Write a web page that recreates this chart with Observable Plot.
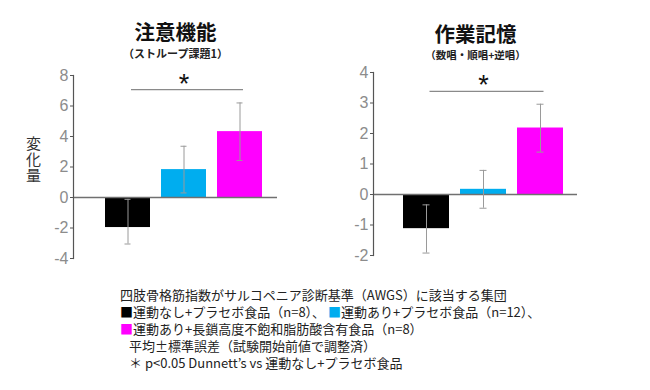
<!DOCTYPE html>
<html>
<head>
<meta charset="utf-8">
<script src="https://cdn.jsdelivr.net/npm/d3@7"></script>
<script src="https://cdn.jsdelivr.net/npm/@observablehq/plot@0.6"></script>
<style>
  html, body { margin: 0; padding: 0; background: #fff; }
  #wrap { position: relative; width: 650px; height: 390px; overflow: hidden; }
  #left { position: absolute; left: 0; top: 0; }
  #right { position: absolute; left: 320px; top: 0; }
  #ylabel { position: absolute; left: 25px; top: 136px; writing-mode: vertical-rl; text-orientation: upright; font-family: "Noto Sans CJK JP", sans-serif; font-size: 15px; line-height: 16px; letter-spacing: 1px; color: #333; }
  #caption { position: absolute; left: 120px; top: 286px; font-family: "Noto Sans CJK JP", sans-serif; font-size: 13px; line-height: 17px; color: #222; white-space: nowrap; }
  #caption > div { height: 17px; overflow: visible; }
  #caption .ind { padding-left: 9px; }
  #caption .sq { display: inline-block; height: 17px; line-height: 17px; vertical-align: top; }
</style>
</head>
<body>
<div id="wrap">
  <div id="left"></div>
  <div id="right"></div>
  <div id="ylabel"></div>
  <div id="caption"></div>
</div>
<script>
const groups = ["運動なし+プラセボ食品", "運動あり+プラセボ食品", "運動あり+長鎖高度不飽和脂肪酸含有食品"];
const colors = ["#000000", "#00adef", "#ff00ff"];

const attentionMean = [-1.97, 1.83, 4.32];
const attentionLow  = [-3.05, 0.30, 2.43];
const attentionHigh = [-0.12, 3.36, 6.20];
const attentionTicks = [-4, -2, 0, 2, 4, 6, 8];

const memoryMean = [-1.12, 0.17, 2.18];
const memoryLow  = [-1.92, -0.45, 1.39];
const memoryHigh = [-0.34, 0.79, 2.96];
const memoryTicks = [-2, -1, 0, 1, 2, 3, 4];

const sigAttention = 7.08;
const sigMemory = 3.38;

const yLabel = "変化量";
const captionLines = [
  "四肢骨格筋指数がサルコペニア診断基準（AWGS）に該当する集団",
  "運動なし+プラセボ食品（n=8）、",
  "運動あり+プラセボ食品（n=12）、",
  "運動あり+長鎖高度不飽和脂肪酸含有食品（n=8）",
  "平均±標準誤差（試験開始前値で調整済）",
  "＊ p<0.05 Dunnett’s vs 運動なし+プラセボ食品"
];

function panel({title, subtitle, mean, low, high, ticks, sig, width, height, margins, xRange, titleDy, subDy, subSize}) {
  const rows = groups.map((g, i) => ({group: g, mean: mean[i], low: low[i], high: high[i]}));
  const marks = [
    Plot.barY(rows, {x: "group", y: "mean", fill: "group"}),
    Plot.ruleY([0], {stroke: "#707070", strokeWidth: 1.6}),
    Plot.ruleX(rows, {x: "group", y1: "low", y2: "high", stroke: "#9a9a9a", strokeWidth: 1}),
    Plot.tickY(rows, {x: "group", y: "low", stroke: "#9a9a9a", strokeWidth: 1, insetLeft: 19.5, insetRight: 19.5}),
    Plot.tickY(rows, {x: "group", y: "high", stroke: "#9a9a9a", strokeWidth: 1, insetLeft: 19.5, insetRight: 19.5}),
    Plot.link([{}], {x1: () => groups[0], x2: () => groups[2], y1: () => sig, y2: () => sig, stroke: "#8a8a8a", strokeWidth: 1.2, dx: 3}),
    Plot.text([{}], {x: () => groups[1], y: () => sig, text: () => "*", fontSize: 27, fill: "#111", fontFamily: "Liberation Sans, sans-serif", dy: 3, lineAnchor: "bottom"}),
    Plot.frame({anchor: "left", stroke: "#555", strokeWidth: 1.2}),
    Plot.axisY({ticks, tickSize: 3, tickPadding: 2, fontSize: 16, tickFormat: d => String(d), fill: "#8c8c8c", stroke: "#555", fontFamily: "Liberation Sans, sans-serif"}),
    Plot.text([title], {frameAnchor: "top", lineAnchor: "middle", text: d => d, dy: titleDy, fontSize: 20.5, fontWeight: "bold", fill: "#111", fontFamily: "Noto Sans CJK JP, sans-serif"}),
    Plot.text([subtitle], {frameAnchor: "top", lineAnchor: "middle", text: d => d, dy: subDy, fontSize: subSize, fontWeight: "bold", fill: "#222", fontFamily: "Noto Sans CJK JP, sans-serif"})
  ];
  return Plot.plot({
    width, height,
    marginLeft: margins[0], marginTop: margins[1], marginRight: margins[2], marginBottom: margins[3],
    style: {background: "transparent", overflow: "visible", fontFamily: "Liberation Sans, sans-serif"},
    x: {domain: groups, range: xRange, paddingInner: 0.2, paddingOuter: 0.1, axis: null},
    y: {domain: [ticks[0], ticks[ticks.length - 1]], axis: null},
    color: {domain: groups, range: colors},
    marks
  });
}

document.getElementById("left").append(panel({
  title: "注意機能", subtitle: "（ストループ課題1）",
  mean: attentionMean, low: attentionLow, high: attentionHigh, ticks: attentionTicks, sig: sigAttention,
  width: 320, height: 275, margins: [73, 75, 43, 17], xRange: [98.3, 268.5],
  titleDy: -42, subDy: -21, subSize: 11
}));

document.getElementById("right").append(panel({
  title: "作業記憶", subtitle: "（数唱・順唱+逆唱）",
  mean: memoryMean, low: memoryLow, high: memoryHigh, ticks: memoryTicks, sig: sigMemory,
  width: 330, height: 275, margins: [53, 72, 73, 20], xRange: [77.3, 248.3],
  titleDy: -37, subDy: -17, subSize: 10.5
}));

document.getElementById("ylabel").textContent = yLabel;

const cap = document.getElementById("caption");
const sq = c => `<span class="sq" style="color:${c}">■</span>`;
cap.innerHTML =
  `<div>${captionLines[0]}</div>` +
  `<div>${sq(colors[0])}${captionLines[1]} ${sq(colors[1])}${captionLines[2]}</div>` +
  `<div>${sq(colors[2])}${captionLines[3]}</div>` +
  `<div class="ind">${captionLines[4]}</div>` +
  `<div class="ind">${captionLines[5]}</div>`;
</script>
</body>
</html>
